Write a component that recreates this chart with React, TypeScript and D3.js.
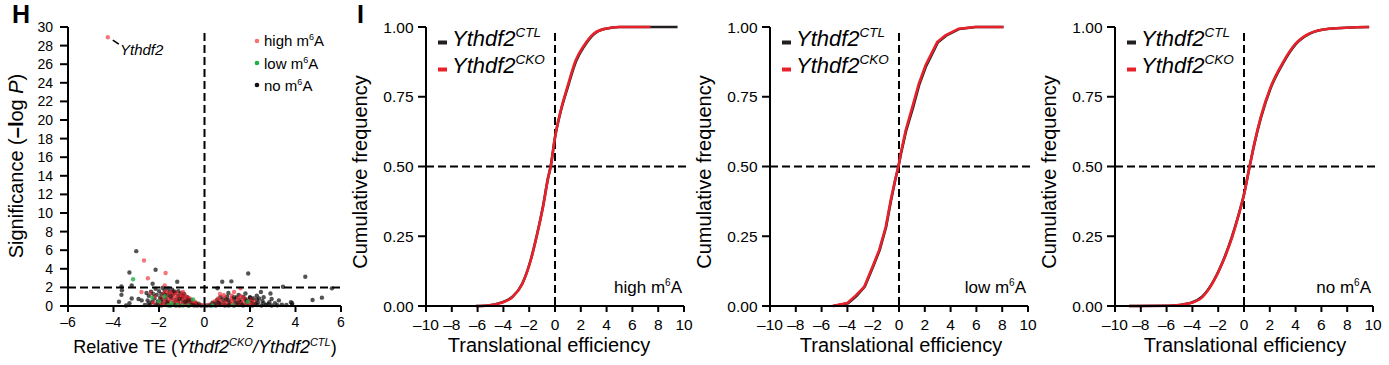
import React from "react";
import * as d3 from "d3";

// ---- panel H : volcano-like scatter ----
const hTicksX = [-6, -4, -2, 0, 2, 4, 6];
const hTicksY = [0, 2, 4, 6, 8, 10, 12, 14, 16, 18, 20, 22, 24, 26, 28, 30];

const blackPts = [
  [-3.0, 5.9], [-3.3, 3.6], [-2.15, 3.9], [-3.65, 2.1], [-3.63, 1.7], [-3.65, 1.2], [-3.76, 0.45],
  [-3.2, 2.2], [-3.2, 0.8], [-3.3, 0.3], [-2.9, 0.75], [-2.76, 0.6], [-2.28, 2.4], [-1.2, 2.6],
  [-2.55, 1.4], [-2.45, 0.3], [-2.62, 0.1], [-3.45, 0.05],
  [1.92, 3.5], [0.78, 2.6], [1.18, 2.65], [0.57, 1.9], [4.43, 3.15], [3.45, 2.07], [5.6, 1.9],
  [5.16, 0.9], [4.75, 0.65], [3.8, 0.4], [3.85, 0.3], [3.27, 0.6], [2.9, 1.35], [2.6, 0.95],
  [2.48, 1.5], [1.8, 1.35], [2.0, 0.95], [3.4, 0.15], [3.1, 0.3], [2.8, 0.2], [3.6, 0.1],
  [2.95, 0.75], [2.3, 1.1], [1.5, 1.2], [1.05, 1.4],
  [-2.4, 0.1], [-2.15, 0.15], [-1.9, 0.05], [-1.7, 0.12], [-1.5, 0.05], [-1.3, 0.1], [-1.1, 0.05],
  [-0.9, 0.12], [-0.7, 0.05], [-0.5, 0.1], [-0.32, 0.06], [-0.15, 0.04],
  [-2.3, 0.45], [-2.05, 0.5], [-1.85, 0.4], [-1.6, 0.45], [-1.35, 0.38], [-1.15, 0.45], [-0.95, 0.4],
  [-0.75, 0.35], [-0.55, 0.42], [-0.38, 0.3],
  [-2.2, 0.8], [-1.95, 0.9], [-1.7, 0.75], [-1.45, 0.82], [-1.25, 0.7], [-1.0, 0.8], [-0.8, 0.72], [-0.6, 0.65],
  [-2.1, 1.2], [-1.9, 1.3], [-1.65, 1.15], [-1.4, 1.25], [-1.15, 1.1], [-0.95, 1.05], [-0.75, 0.95],
  [-2.0, 1.6], [-1.75, 1.7], [-1.55, 1.5], [-1.3, 1.45], [-1.05, 1.35],
  [-2.35, 1.55], [-2.15, 1.85], [-1.85, 1.95], [-1.6, 1.9], [-1.42, 1.75], [-1.15, 1.6], [-0.9, 1.3],
  [-2.45, 1.1], [-2.5, 0.6],
  [0.1, 0.05], [0.3, 0.1], [0.5, 0.05], [0.7, 0.1], [0.9, 0.05], [1.1, 0.1], [1.3, 0.05], [1.5, 0.1],
  [1.7, 0.05], [1.9, 0.1], [2.1, 0.05], [2.3, 0.1], [2.5, 0.05], [2.7, 0.1], [2.95, 0.05], [3.2, 0.08], [3.85, 0.1],
  [0.35, 0.35], [0.6, 0.4], [0.85, 0.3], [1.1, 0.38], [1.35, 0.32], [1.6, 0.4], [1.85, 0.35], [2.1, 0.3],
  [2.35, 0.38], [2.6, 0.3], [2.85, 0.4],
  [0.55, 0.65], [0.8, 0.7], [1.05, 0.62], [1.3, 0.7], [1.55, 0.65], [1.8, 0.72], [2.05, 0.6], [2.3, 0.68], [2.55, 0.55],
  [0.7, 0.95], [1.0, 1.0], [1.4, 0.92], [1.7, 0.98], [2.0, 0.9], [2.4, 0.8],
];

// black points that sit on top of the red ones inside the clumps
const blackTopPts = [
  [-2.05, 0.1], [-1.65, 0.35], [-1.25, 0.05], [-0.85, 0.45], [-0.6, 0.15], [-1.9, 0.7], [-1.5, 1.05],
  [-1.1, 0.75], [-0.7, 0.6], [-1.75, 1.25], [-1.35, 1.6], [-2.25, 1.3], [-0.45, 0.05], [-0.25, 0.25],
  [0.25, 0.05], [0.65, 0.3], [1.05, 0.05], [1.45, 0.35], [1.85, 0.6], [2.25, 0.25], [0.95, 0.7],
  [1.3, 0.95], [1.65, 0.15], [2.15, 0.85], [0.45, 0.25],
];

const redPts = [
  [-4.25, 28.9], [-2.66, 4.9], [-1.71, 3.55], [-2.49, 2.98], [-2.77, 1.5], [-2.34, 1.4], [-1.75, 2.2],
  [1.3, 1.5], [1.58, 1.9], [0.68, 1.3],
  [-2.0, 0.25], [-1.8, 0.2], [-1.6, 0.28], [-1.4, 0.2], [-1.2, 0.25], [-1.0, 0.2], [-0.85, 0.28],
  [-0.65, 0.2], [-0.45, 0.22], [-0.28, 0.15], [-0.12, 0.1],
  [-1.95, 0.6], [-1.75, 0.55], [-1.55, 0.62], [-1.35, 0.55], [-1.15, 0.6], [-0.95, 0.58], [-0.75, 0.55],
  [-0.55, 0.5], [-0.4, 0.4],
  [-1.85, 0.95], [-1.6, 1.0], [-1.4, 0.95], [-1.2, 0.9], [-1.0, 0.95], [-0.8, 0.85], [-0.65, 0.8],
  [-1.8, 1.35], [-1.55, 1.3], [-1.3, 1.2], [-1.05, 1.2], [-0.85, 1.1],
  [-1.7, 1.55], [-1.45, 1.5], [-1.25, 1.45], [-2.2, 1.0], [-2.25, 0.35], [-0.95, 1.5],
  [0.2, 0.15], [0.4, 0.2], [0.6, 0.15], [0.8, 0.22], [1.0, 0.15], [1.2, 0.2], [1.4, 0.15], [1.6, 0.22],
  [1.8, 0.15], [2.0, 0.2], [2.2, 0.15],
  [0.45, 0.5], [0.7, 0.55], [0.95, 0.5], [1.2, 0.55], [1.45, 0.5], [1.7, 0.55], [1.95, 0.48], [2.2, 0.45],
  [0.6, 0.8], [0.9, 0.85], [1.2, 0.82], [1.5, 0.8], [1.75, 0.85],
  [0.85, 1.15], [1.2, 1.1], [1.6, 1.05], [2.1, 0.75],
];

const greenPts = [
  [-3.14, 2.87], [-1.75, 1.05], [-1.2, 0.12], [-0.7, 0.05], [-0.5, 0.7], [-1.45, 0.3], [-2.0, 0.5],
  [1.9, 0.45], [1.25, 0.08], [0.35, 0.05], [-2.3, 0.9], [-0.95, 0.05], [-1.6, 0.05],
];

const hLegend = ["high", "low", "no"];
const hLegendColors = ["#f37474", "#1fae4a", "#111"];

// ---- panel I : cumulative curves ----
const iTicksX = [-10, -8, -6, -4, -2, 0, 2, 4, 6, 8, 10];
const iTicksY = [0, 0.25, 0.5, 0.75, 1];
const iTickLabelsY = ["0.00", "0.25", "0.50", "0.75", "1.00"];

const highCTL = [
  [-6.1, 0], [-5.2, 0.002], [-4.2, 0.012], [-3.3, 0.033], [-2.54, 0.08], [-1.89, 0.164], [-1.39, 0.257],
  [-0.94, 0.355], [-0.53, 0.461], [-0.34, 0.5], [0, 0.604], [0.45, 0.699], [0.98, 0.783], [1.63, 0.877],
  [2.28, 0.932], [3.03, 0.975], [3.95, 0.994], [5.0, 1.0], [9.5, 1.0],
];
const highCKO = [
  [-6.15, 0], [-5.2, 0.002], [-4.2, 0.011], [-3.3, 0.032], [-2.53, 0.08], [-1.88, 0.164], [-1.38, 0.258],
  [-0.93, 0.355], [-0.52, 0.462], [-0.33, 0.5], [0, 0.605], [0.44, 0.7], [0.96, 0.785], [1.6, 0.88],
  [2.25, 0.934], [3.0, 0.976], [3.9, 0.994], [4.96, 1.0], [7.4, 1.0],
];
const lowCTL = [
  [-5.1, 0], [-3.95, 0.01], [-3.3, 0.036], [-2.65, 0.07], [-2.02, 0.14], [-1.5, 0.2], [-1.0, 0.283],
  [-0.62, 0.378], [-0.3, 0.45], [-0.04, 0.5], [0.15, 0.545], [0.55, 0.628], [1.08, 0.71], [1.58, 0.795],
  [2.1, 0.86], [3.0, 0.944], [3.65, 0.969], [4.68, 0.993], [5.95, 1.0], [8.1, 1.0],
];
const lowCKO = [
  [-5.15, 0], [-4.0, 0.011], [-3.34, 0.038], [-2.7, 0.068], [-2.06, 0.14], [-1.54, 0.2], [-1.03, 0.283],
  [-0.64, 0.379], [-0.31, 0.45], [-0.05, 0.5], [0.13, 0.546], [0.52, 0.63], [1.03, 0.713], [1.54, 0.797],
  [2.06, 0.863], [2.96, 0.946], [3.6, 0.97], [4.63, 0.994], [5.9, 1.0], [8.1, 1.0],
];
const noCTL = [
  [-8.9, 0], [-5.8, 0.001], [-4.15, 0.011], [-3.25, 0.033], [-2.48, 0.08], [-1.7, 0.153], [-0.92, 0.25],
  [-0.46, 0.32], [0, 0.4], [0.43, 0.5], [0.8, 0.58], [1.32, 0.676], [2.1, 0.785], [3.0, 0.868],
  [4.05, 0.94], [5.1, 0.976], [6.6, 0.994], [9.7, 1.0],
];
const noCKO = [
  [-8.9, 0], [-5.8, 0.001], [-4.13, 0.011], [-3.23, 0.032], [-2.46, 0.08], [-1.69, 0.152], [-0.9, 0.25],
  [-0.45, 0.32], [0, 0.4], [0.44, 0.5], [0.8, 0.582], [1.3, 0.677], [2.07, 0.785], [2.97, 0.869],
  [4.0, 0.94], [5.04, 0.976], [6.6, 0.994], [9.7, 1.0],
];

const panels = [
  { left: 426, ctl: highCTL, cko: highCKO, label: "high", smooth: true, titleDx: -6 },
  { left: 770, ctl: lowCTL, cko: lowCKO, label: "low", smooth: false, titleDx: 2 },
  { left: 1115, ctl: noCTL, cko: noCKO, label: "no", smooth: true, titleDx: 1 },
];

const FONT = "'Liberation Sans', Arial, Helvetica, sans-serif";
const RED = "#e8222b";
const BLACK = "#231f20";
const dash = "8,4";

function fmt(v: number) {
  return v < 0 ? "\u2013" + Math.abs(v) : String(v);
}

function PanelH() {
  const x = d3.scaleLinear().domain([-6, 6]).range([68, 341]);
  const y = d3.scaleLinear().domain([0, 30]).range([306, 27]);
  const dot = (p: number[], c: string, o: number, k: string) => (
    <circle key={k} cx={x(p[0])} cy={y(p[1])} r={2.2} fill={c} fillOpacity={o} />
  );
  return (
    <g>
      <text x={12} y={23} fontSize={25} fontWeight="bold">H</text>
      {blackPts.map((p, i) => dot(p, "#111", 0.72, "b" + i))}
      {redPts.map((p, i) => dot(p, "#ee1c24", i < 10 ? 0.6 : 0.68, "r" + i))}
      {blackTopPts.map((p, i) => dot(p, "#111", 0.6, "t" + i))}
      {greenPts.map((p, i) => dot(p, "#1fae4a", 0.8, "g" + i))}
      <line x1={x(0)} x2={x(0)} y1={33} y2={y(0)} stroke="#000" strokeWidth={2} strokeDasharray={dash} />
      <line x1={x(-6)} x2={x(6)} y1={y(2)} y2={y(2)} stroke="#000" strokeWidth={2} strokeDasharray={dash} />
      <line x1={x(-4.25) + 5} y1={y(28.9) + 3} x2={x(-4.25) + 11} y2={y(28.9) + 7} stroke="#000" strokeWidth={1.5} />
      <text x={120} y={55} fontSize={15} fontStyle="italic">Ythdf2</text>
      {/* axes */}
      <line x1={x(-6)} x2={x(6)} y1={y(0)} y2={y(0)} stroke="#000" strokeWidth={2} />
      <line x1={x(-6)} x2={x(-6)} y1={y(0) + 1} y2={y(30)} stroke="#000" strokeWidth={2} />
      {hTicksY.map((t) => (
        <g key={"hy" + t}>
          <line x1={x(-6) - 8} x2={x(-6)} y1={y(t)} y2={y(t)} stroke="#000" strokeWidth={2} />
          <text x={53} y={y(t)} dy="0.36em" fontSize={14} textAnchor="end">{t}</text>
        </g>
      ))}
      {hTicksX.map((t) => (
        <g key={"hx" + t}>
          <line x1={x(t)} x2={x(t)} y1={y(0)} y2={y(0) + 6} stroke="#000" strokeWidth={2} />
          <text x={x(t)} y={327} fontSize={14} textAnchor="middle">{fmt(t)}</text>
        </g>
      ))}
      <text transform="translate(23,166) rotate(-90)" fontSize={20} textAnchor="middle">
        Significance (<tspan fontWeight="bold">{"\u2013l"}</tspan>og <tspan fontStyle="italic">P</tspan>)
      </text>
      <text x={205} y={353} fontSize={18} textAnchor="middle">
        Relative TE (<tspan fontStyle="italic">Ythdf2</tspan>
        <tspan fontSize={11} fontStyle="italic" dy={-7}>CKO</tspan>
        <tspan dy={7} fontStyle="italic">/Ythdf2</tspan>
        <tspan fontSize={11} fontStyle="italic" dy={-7}>CTL</tspan>
        <tspan dy={7}>)</tspan>
      </text>
      {hLegend.map((l, i) => (
        <g key={"hl" + l}>
          <circle cx={257} cy={41 + i * 22} r={2.3} fill={hLegendColors[i]} />
          <text x={264} y={46 + i * 22.5} fontSize={15}>
            {l} m<tspan fontSize={9} dy={-6}>6</tspan><tspan dy={6}>A</tspan>
          </text>
        </g>
      ))}
    </g>
  );
}

function PanelI({ cfg }: { cfg: (typeof panels)[number] }) {
  const x = d3.scaleLinear().domain([-10, 10]).range([cfg.left, cfg.left + 258]);
  const y = d3.scaleLinear().domain([0, 1]).range([306, 27]);
  const line = d3
    .line<number[]>()
    .x((d) => x(d[0]))
    .y((d) => y(d[1]))
    .curve(cfg.smooth ? d3.curveMonotoneX : d3.curveLinear);
  const L = cfg.left;
  return (
    <g>
      <line x1={x(-10)} x2={x(10) + 4} y1={y(0.5)} y2={y(0.5)} stroke="#000" strokeWidth={2} strokeDasharray={dash} />
      <line x1={x(0)} x2={x(0)} y1={33} y2={y(0)} stroke="#000" strokeWidth={2} strokeDasharray={dash} />
      <path d={line(cfg.ctl) || ""} fill="none" stroke={BLACK} strokeWidth={2.6} />
      <path d={line(cfg.cko) || ""} fill="none" stroke={RED} strokeWidth={2.6} />
      <line x1={x(-10)} x2={x(10)} y1={y(0)} y2={y(0)} stroke="#000" strokeWidth={2} />
      <line x1={L} x2={L} y1={y(0) + 1} y2={y(1)} stroke="#000" strokeWidth={2} />
      {iTicksY.map((t, i) => (
        <g key={"iy" + t}>
          <line x1={L - 8} x2={L} y1={y(t)} y2={y(t)} stroke="#000" strokeWidth={2} />
          <text x={L - 12.5} y={y(t)} dy="0.36em" fontSize={15.5} textAnchor="end">{iTickLabelsY[i]}</text>
        </g>
      ))}
      {iTicksX.map((t) => (
        <g key={"ix" + t}>
          <line x1={x(t)} x2={x(t)} y1={y(0)} y2={y(0) + 6} stroke="#000" strokeWidth={2} />
          <text x={x(t)} y={330} fontSize={15.5} textAnchor="middle">{fmt(t)}</text>
        </g>
      ))}
      <text transform={`translate(${L - 59},172) rotate(-90)`} fontSize={20} textAnchor="middle">
        Cumulative frequency
      </text>
      <text x={L + 129 + cfg.titleDx} y={352} fontSize={20} textAnchor="middle">
        Translational efficiency
      </text>
      <text x={L + 256} y={293} fontSize={17} textAnchor="end">
        {cfg.label} m<tspan fontSize={10} dy={-7}>6</tspan><tspan dy={7}>A</tspan>
      </text>
      {[
        { c: BLACK, s: "CTL" },
        { c: RED, s: "CKO" },
      ].map((e, i) => (
        <g key={e.s}>
          <line x1={L + 12} x2={L + 21} y1={42.5 + i * 27} y2={42.5 + i * 27} stroke={e.c} strokeWidth={4} />
          <text x={L + 26} y={46 + i * 27} fontSize={22} fontStyle="italic">
            Ythdf2<tspan fontSize={13.5} dy={-9}>{e.s}</tspan>
          </text>
        </g>
      ))}
    </g>
  );
}

export default function App() {
  return (
    <svg
      width={1389}
      height={365}
      style={{ position: "absolute", left: 0, top: 0, background: "#fff" }}
      fontFamily={FONT}
    >
      <rect width={1389} height={365} fill="#fff" />
      <PanelH />
      <text x={357} y={23} fontSize={25} fontWeight="bold">I</text>
      {panels.map((p) => (
        <PanelI key={p.label} cfg={p} />
      ))}
    </svg>
  );
}
